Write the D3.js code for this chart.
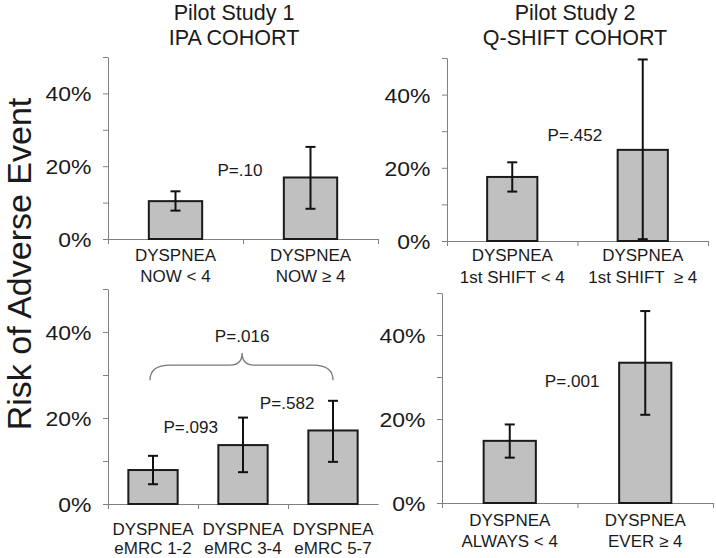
<!DOCTYPE html>
<html><head><meta charset="utf-8">
<script src="https://cdn.jsdelivr.net/npm/d3@7"></script>
<style>
body{margin:0;background:#fff}
svg{display:block}
text{font-family:"Liberation Sans",Arial,Helvetica,sans-serif;fill:#1a1a1a}
</style>
</head><body>
<svg id="chart" width="716" height="558"></svg>
<script>
// ---------- DATA ----------
const yTickValues = [0, 10, 20, 30, 40, 50];
const yTickLabels = ["0%", "", "20%", "", "40%", ""];
const yTitle = "Risk of Adverse Event";
const study1Title = ["Pilot Study 1", "IPA COHORT"];
const study2Title = ["Pilot Study 2", "Q-SHIFT COHORT"];

const ipaCategories = [["DYSPNEA", "NOW < 4"], ["DYSPNEA", "NOW ≥ 4"]];
const ipaRisk = [10.4, 16.9];
const ipaLow = [7.8, 8.3];
const ipaHigh = [13.1, 25.3];
const ipaP = ["P=.10"];

const qshiftCategories = [["DYSPNEA", "1st SHIFT < 4"], ["DYSPNEA", "1st SHIFT  ≥ 4"]];
const qshiftRisk = [17.5, 24.9];
const qshiftLow = [13.5, 0.5];
const qshiftHigh = [21.5, 49.6];
const qshiftP = ["P=.452"];

const emrcCategories = [["DYSPNEA", "eMRC 1-2"], ["DYSPNEA", "eMRC 3-4"], ["DYSPNEA", "eMRC 5-7"]];
const emrcRisk = [7.9, 13.7, 17.1];
const emrcLow = [4.6, 7.4, 9.8];
const emrcHigh = [11.2, 20.1, 24.0];
const emrcP = ["P=.093", "P=.582", "P=.016"];

const everCategories = [["DYSPNEA", "ALWAYS < 4"], ["DYSPNEA", "EVER ≥ 4"]];
const everRisk = [14.8, 33.4];
const everLow = [10.8, 21.0];
const everHigh = [18.7, 45.7];
const everP = ["P=.001"];

// ---------- LAYOUT ----------
const panels = [
  {cats: ipaCategories, risk: ipaRisk, lo: ipaLow, hi: ipaHigh, x0: 108, x1: 378, yTop: 57, yZero: 239,
   pad: 0.59, lab1: 21.7, lab2: 42.7, endTick: true,
   notes: [{t: ipaP[0], xi: 0.978, v: 17.3}]},
  {cats: qshiftCategories, risk: qshiftRisk, lo: qshiftLow, hi: qshiftHigh, x0: 447, x1: 708, yTop: 58, yZero: 241,
   pad: 0.6, lab1: 19.5, lab2: 42, endTick: true,
   notes: [{t: qshiftP[0], xi: 0.98, v: 27.4}]},
  {cats: emrcCategories, risk: emrcRisk, lo: emrcLow, hi: emrcHigh, x0: 108, x1: 378, yTop: 289, yZero: 504,
   pad: 0.43, lab1: 31, lab2: 49.5, endTick: false,
   notes: [{t: emrcP[0], xi: 0.92, v: 16.5}, {t: emrcP[1], xi: 1.99, v: 22.1}, {t: emrcP[2], xi: 1.49, v: 37.7}],
   brace: {xa: 0.467, xb: 2.5, xm: 1.49, yEnd: 28.8, yFlat: 32.3, yTip: 35.1}},
  {cats: everCategories, risk: everRisk, lo: everLow, hi: everHigh, x0: 442, x1: 713, yTop: 293, yZero: 503,
   pad: 0.6, lab1: 23, lab2: 43.7, endTick: true,
   notes: [{t: everP[0], xi: 0.96, v: 27.7}]}
];

const AXIS = "#808080", INK = "#1a1a1a", FILL = "#c0c0c0";

function stretch(sel, sx) {
  sel.each(function() {
    const t = d3.select(this);
    const x = +t.attr("x") || 0, y = +t.attr("y") || 0;
    t.attr("x", 0).attr("y", 0).attr("transform", `translate(${x},${y}) scale(${sx},1)`);
  });
}

const svg = d3.select("#chart");

panels.forEach(p => {
  const g = svg.append("g");
  const n = p.cats.length;
  const y = d3.scaleLinear().domain([0, 50]).range([p.yZero, p.yTop]);
  const xb = d3.scaleBand().domain(d3.range(n)).range([p.x0, p.x1])
    .paddingInner(p.pad).paddingOuter(p.pad / 2);
  const xl = d3.scaleLinear().domain([0, n]).range([p.x0, p.x1]);

  // y axis
  const yg = g.append("g").attr("transform", `translate(${p.x0},0)`)
    .call(d3.axisLeft(y).tickValues(yTickValues).tickFormat((d, i) => yTickLabels[i])
      .tickSize(5).tickSizeOuter(0).tickPadding(11.5));
  yg.attr("font-size", null).attr("font-family", null);
  yg.select(".domain").attr("stroke", AXIS);
  yg.selectAll(".tick line").attr("stroke", AXIS);
  yg.selectAll(".tick text").attr("font-size", 20.5).attr("fill", INK).attr("dy", "0.37em");
  stretch(yg.selectAll(".tick text"), 1.12);

  // x axis (category boundary ticks)
  const xg = g.append("g").attr("transform", `translate(0,${p.yZero})`)
    .call(d3.axisBottom(xl).tickValues(d3.range(p.endTick ? n + 1 : n)).tickFormat("")
      .tickSize(5).tickSizeOuter(0));
  xg.select(".domain").attr("stroke", AXIS);
  xg.selectAll(".tick line").attr("stroke", AXIS);

  // bars
  g.selectAll("rect.bar").data(p.risk).join("rect").attr("class", "bar")
    .attr("x", (d, i) => xb(i) + 1).attr("width", xb.bandwidth() - 2)
    .attr("y", d => y(d)).attr("height", d => y(0) - y(d))
    .attr("fill", FILL).attr("stroke", INK).attr("stroke-width", 2);

  // error bars
  const cx = i => xb(i) + xb.bandwidth() / 2;
  const eb = g.selectAll("g.err").data(p.risk).join("g").attr("class", "err")
    .attr("stroke", "#111").attr("stroke-width", 2);
  eb.append("line").attr("x1", (d, i) => cx(i)).attr("x2", (d, i) => cx(i))
    .attr("y1", (d, i) => y(p.hi[i])).attr("y2", (d, i) => y(p.lo[i]));
  eb.append("line").attr("x1", (d, i) => cx(i) - 5).attr("x2", (d, i) => cx(i) + 5)
    .attr("y1", (d, i) => y(p.hi[i])).attr("y2", (d, i) => y(p.hi[i]));
  eb.append("line").attr("x1", (d, i) => cx(i) - 5).attr("x2", (d, i) => cx(i) + 5)
    .attr("y1", (d, i) => y(p.lo[i])).attr("y2", (d, i) => y(p.lo[i]));

  // category labels
  p.cats.forEach((c, i) => {
    const l1 = g.append("text").attr("x", cx(i)).attr("y", p.yZero + p.lab1)
      .attr("text-anchor", "middle").attr("font-size", 16.5).text(c[0]);
    const l2 = g.append("text").attr("x", cx(i)).attr("y", p.yZero + p.lab2)
      .attr("text-anchor", "middle").attr("font-size", 16.5).attr("xml:space", "preserve")
      .style("white-space", "pre").text(c[1]);
    stretch(l1, 1.03); stretch(l2, 1.03);
  });

  // p-value notes
  p.notes.forEach(nt => {
    const t = g.append("text").attr("x", xl(nt.xi)).attr("y", y(nt.v))
      .attr("text-anchor", "middle").attr("font-size", 16).text(nt.t);
    stretch(t, 1.07);
  });

  // brace
  if (p.brace) {
    const b = p.brace;
    const xa = xl(b.xa), xr = xl(b.xb), xm = xl(b.xm);
    const ye = y(b.yEnd), yf = y(b.yFlat), yt = y(b.yTip);
    const r = 20, r2 = 12;
    const path = d3.path();
    path.moveTo(xa, ye);
    path.quadraticCurveTo(xa, yf, xa + r, yf);
    path.lineTo(xm - r2, yf);
    path.quadraticCurveTo(xm, yf, xm, yt);
    path.quadraticCurveTo(xm, yf, xm + r2, yf);
    path.lineTo(xr - r, yf);
    path.quadraticCurveTo(xr, yf, xr, ye);
    g.append("path").attr("d", path.toString()).attr("fill", "none")
      .attr("stroke", "#7a7a7a").attr("stroke-width", 1.3);
  }
});

// column titles
[[study1Title, 234], [study2Title, 575]].forEach(([tt, x]) => {
  svg.append("text").attr("x", x).attr("y", 19.5).attr("text-anchor", "middle")
    .attr("font-size", 21.5).text(tt[0]);
  svg.append("text").attr("x", x).attr("y", 45).attr("text-anchor", "middle")
    .attr("font-size", 21.5).text(tt[1]);
});

// y title
svg.append("text").attr("transform", "translate(31,264) rotate(-90)")
  .attr("text-anchor", "middle").attr("font-size", 34).text(yTitle);
</script>
</body></html>
